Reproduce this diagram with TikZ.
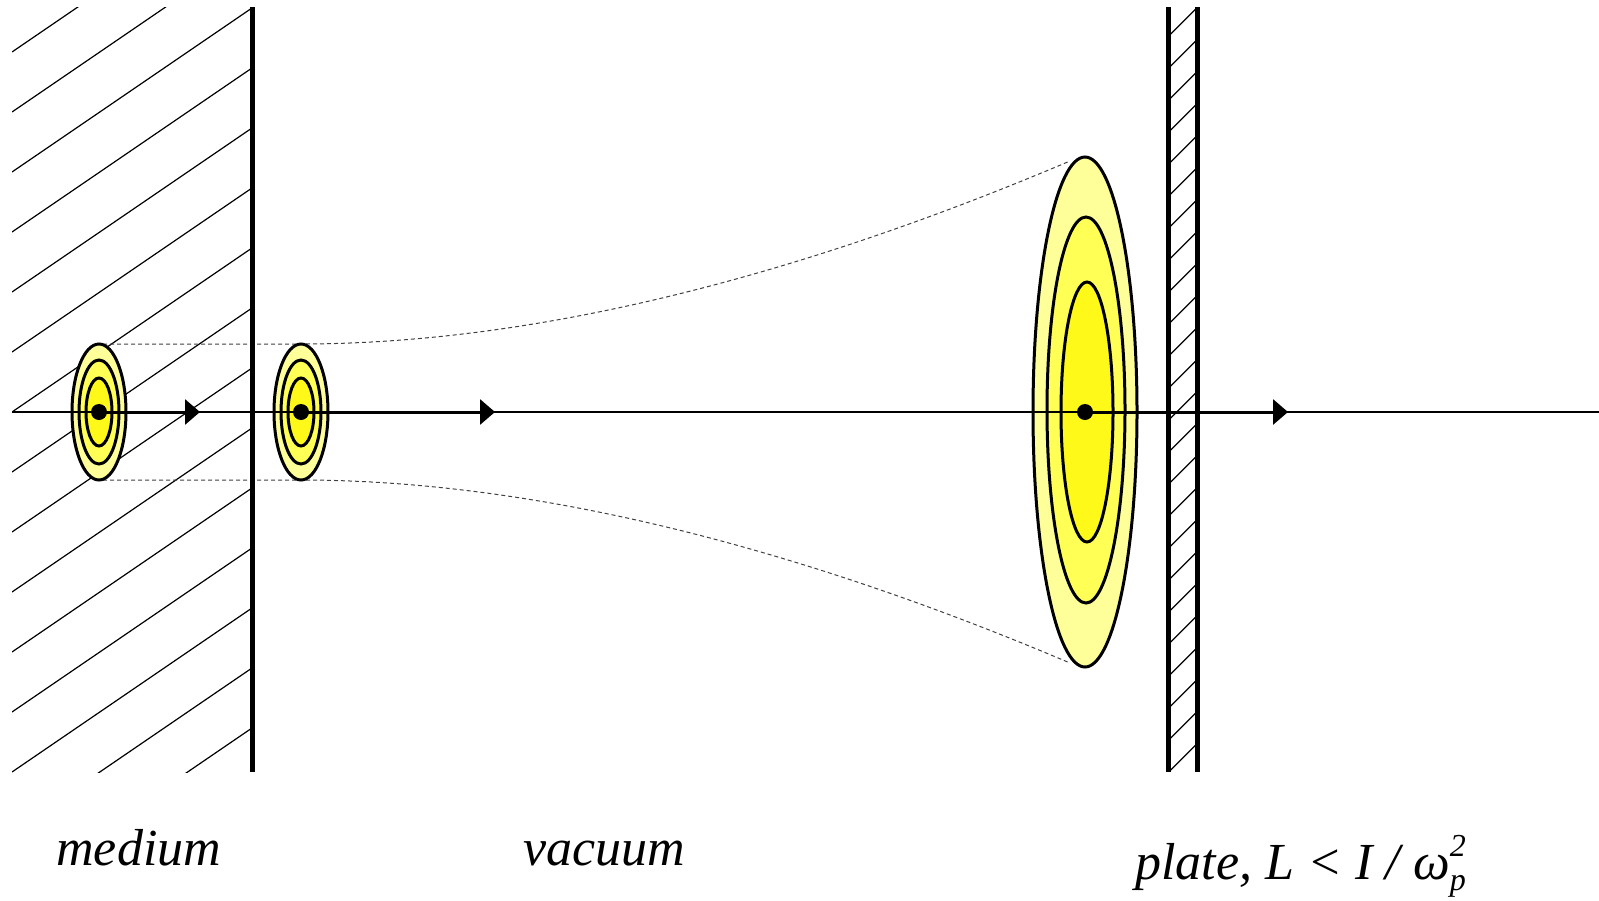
\documentclass[tikz,border=0pt]{standalone}
\usepackage{fontspec}
\setmainfont{Liberation Serif}
\usetikzlibrary{arrows.meta}

\definecolor{beamouter}{HTML}{FFFF99}
\definecolor{beammid}{HTML}{FFFF55}
\definecolor{beamcore}{HTML}{FFF91A}

\tikzset{
    hatch/.style={line width=0.6pt},
    wall/.style={line width=2.5pt},
    beamedge/.style={line width=0.5pt, black!75, dash pattern=on 2pt off 1.5pt},
    ringline/.style={line width=1.5pt},
    captext/.style={font=\fontsize{26pt}{30pt}\selectfont\itshape, inner sep=0pt, anchor=base west}
}

\begin{document}
\begin{tikzpicture}[x=0.5pt, y=-0.5pt, >={Triangle[length=7.5pt, width=12.5pt]}]
    \useasboundingbox (0,0) rectangle (1599,900);

    % Medium hatching
    \begin{scope}
        \clip (12,7) rectangle (252,772);
        \foreach \k in {-3,...,14}
            \draw[hatch] (12,{52+60*\k}) -- ++(240,-164);
    \end{scope}

    % Beam envelope
    \draw[beamedge] (103,344) -- (300,344) .. controls (550,344) and (818,268) .. (1070,161);
    \draw[beamedge] (103,480) -- (300,480) .. controls (550,480) and (818,556) .. (1070,663);

    % Pulse centres
    \coordinate (p1) at (99,412);
    \coordinate (p2) at (301,412);
    \coordinate (p3) at (1085,412);

    % Small pulses
    \foreach \p in {p1,p2} {
        \draw[ringline, fill=beamouter] (\p) ellipse [x radius=27, y radius=68];
        \draw[ringline, fill=beammid] (\p) ellipse [x radius=20, y radius=52];
        \draw[ringline, fill=beamcore] (\p) ellipse [x radius=13, y radius=34];
    }

    % Large pulse
    \draw[ringline, fill=beamouter] (p3) ellipse [x radius=52, y radius=255];
    \draw[ringline, fill=beammid] (1086,410) ellipse [x radius=39, y radius=193];
    \draw[ringline, fill=beamcore] (1087,412) ellipse [x radius=26, y radius=130];

    % Axis and arrows
    \draw[line width=1pt] (12,412) -- (1599,412);
    \draw[->, line width=1.5pt] (p1) -- (200,412);
    \draw[->, line width=1.5pt] (p2) -- (495,412);
    \draw[->, line width=1.5pt] (p3) -- (1288,412);
    \foreach \p in {p1,p2,p3}
        \fill (\p) circle [radius=8];

    % Boundary of the medium
    \draw[wall] (252,7) -- (252,772);

    % Plate
    \draw[wall] (1168,7) -- (1168,772);
    \draw[wall] (1197.5,7) -- (1197.5,772);
    \foreach \k in {0,...,23}
        \draw[hatch] (1170.5,{34.3+32*\k}) -- ++(25,-25);

    % Labels
    \node[captext] (medium) at (56,865) {medium};
    \node[captext] (vacuum) at (523,865) {vacuum};
    \node[captext] (plate) at (1135,879) {plate, L < I / ω\rlap{\raisebox{11.5pt}{\fontsize{16pt}{16pt}\selectfont 2}}\raisebox{-5.5pt}{\fontsize{16pt}{16pt}\selectfont p}};
\end{tikzpicture}
\end{document}
